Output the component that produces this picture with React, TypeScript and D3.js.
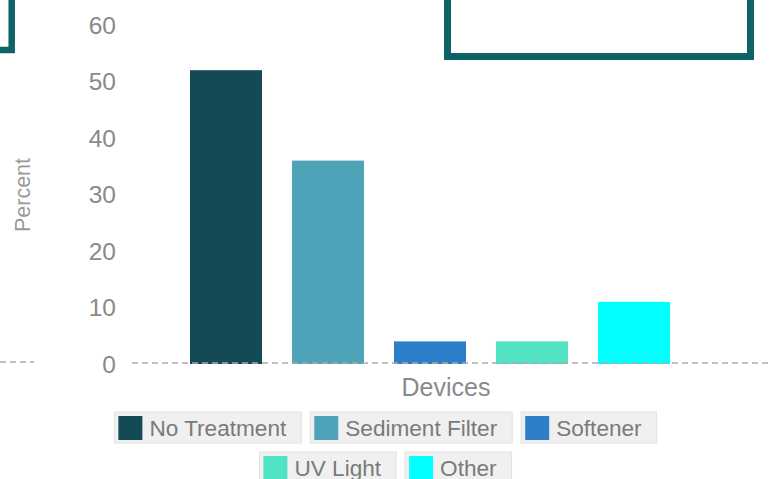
import * as d3 from 'd3';
import React, { useEffect, useRef } from 'react';

const categories = ['No Treatment', 'Sediment Filter', 'Softener', 'UV Light', 'Other'];
const percents = [52, 36, 4, 4, 11];
const colors = ['#134a54', '#4fa3b8', '#2e7fc9', '#52e3c2', '#00ffff'];
const yTicks = [0, 10, 20, 30, 40, 50, 60];

const W = 771, H = 479;
const FONT = '"Liberation Sans", Arial, sans-serif';

const App = () => {
  const ref = useRef<SVGSVGElement>(null);

  useEffect(() => {
    const svg = d3.select(ref.current);
    svg.selectAll('*').remove();

    // frames of neighbouring panels (cut off at the edges)
    svg.append('rect')
      .attr('x', -60).attr('y', -60).attr('width', 71.7).attr('height', 110)
      .attr('fill', 'none').attr('stroke', '#0d6366').attr('stroke-width', 6.5);
    svg.append('rect')
      .attr('x', 447.5).attr('y', -20).attr('width', 303).attr('height', 76.5)
      .attr('fill', 'none').attr('stroke', '#0d6366').attr('stroke-width', 7);
    svg.append('line')
      .attr('x1', 0).attr('x2', 34).attr('y1', 362).attr('y2', 362)
      .attr('stroke', '#aaa').attr('stroke-width', 1.5).attr('stroke-dasharray', '6,4');

    const x = d3.scaleBand<string>()
      .domain(categories)
      .range([139, 721])
      .paddingInner(0.294)
      .paddingOuter(0.5);

    const y = d3.scaleLinear().domain([0, 60]).range([364, 25]);

    // y tick labels
    svg.append('g')
      .selectAll('text')
      .data(yTicks)
      .join('text')
      .attr('x', 116)
      .attr('y', d => y(d))
      .attr('dy', '0.36em')
      .attr('text-anchor', 'end')
      .attr('font-family', FONT)
      .attr('font-size', 24.5)
      .attr('fill', '#8a8a8a')
      .text(d => d);

    // bars
    svg.append('g')
      .selectAll('rect')
      .data(percents)
      .join('rect')
      .attr('x', (d, i) => x(categories[i])!)
      .attr('y', d => y(d))
      .attr('width', x.bandwidth())
      .attr('height', d => y(0) - y(d))
      .attr('fill', (d, i) => colors[i]);

    // zero line
    svg.append('line')
      .attr('x1', 132).attr('x2', W)
      .attr('y1', y(0) - 1).attr('y2', y(0) - 1)
      .attr('stroke', '#aaa').attr('stroke-width', 1.5).attr('stroke-dasharray', '6,4');

    svg.append('text')
      .attr('x', 446).attr('y', 396)
      .attr('text-anchor', 'middle')
      .attr('font-family', FONT).attr('font-size', 25)
      .attr('fill', '#8a8a8a')
      .text('Devices');

    svg.append('text')
      .attr('transform', 'translate(30,195) rotate(-90)')
      .attr('text-anchor', 'middle')
      .attr('font-family', FONT).attr('font-size', 21.5)
      .attr('fill', '#9a9a9a')
      .text('Percent');

    // legend
    const legend = svg.append('g');
    const items = categories.map((c, i) => {
      const g = legend.append('g');
      const bg = g.append('rect')
        .attr('fill', '#f0f0f0').attr('stroke', '#e2e2e2').attr('stroke-width', 1)
        .attr('height', 31);
      g.append('rect')
        .attr('x', 4).attr('y', 4).attr('width', 24).attr('height', 24)
        .attr('fill', colors[i]);
      const t = g.append('text')
        .attr('x', 35).attr('y', 16).attr('dy', '0.36em')
        .attr('font-family', FONT).attr('font-size', 22.6)
        .attr('fill', '#7a7a7a')
        .text(c);
      const w = 35 + (t.node() as SVGTextElement).getComputedTextLength() + 15;
      bg.attr('width', w);
      return { g, w };
    });
    const gap = 9, maxRow = 600;
    const rows: { g: any; w: number }[][] = [[]];
    let rw = 0;
    items.forEach(it => {
      const cur = rows[rows.length - 1];
      if (cur.length && rw + gap + it.w > maxRow) {
        rows.push([it]);
        rw = it.w;
      } else {
        rw += (cur.length ? gap : 0) + it.w;
        cur.push(it);
      }
    });
    rows.forEach((row, r) => {
      const total = d3.sum(row, d => d.w) + gap * (row.length - 1);
      let cx = W / 2 - total / 2;
      row.forEach(it => {
        it.g.attr('transform', `translate(${cx},${412 + r * 40})`);
        cx += it.w + gap;
      });
    });
  }, []);

  return (
    <svg ref={ref} width={W} height={H}
      style={{ position: 'absolute', left: 0, top: 0, background: '#fff' }} />
  );
};

export default App;
